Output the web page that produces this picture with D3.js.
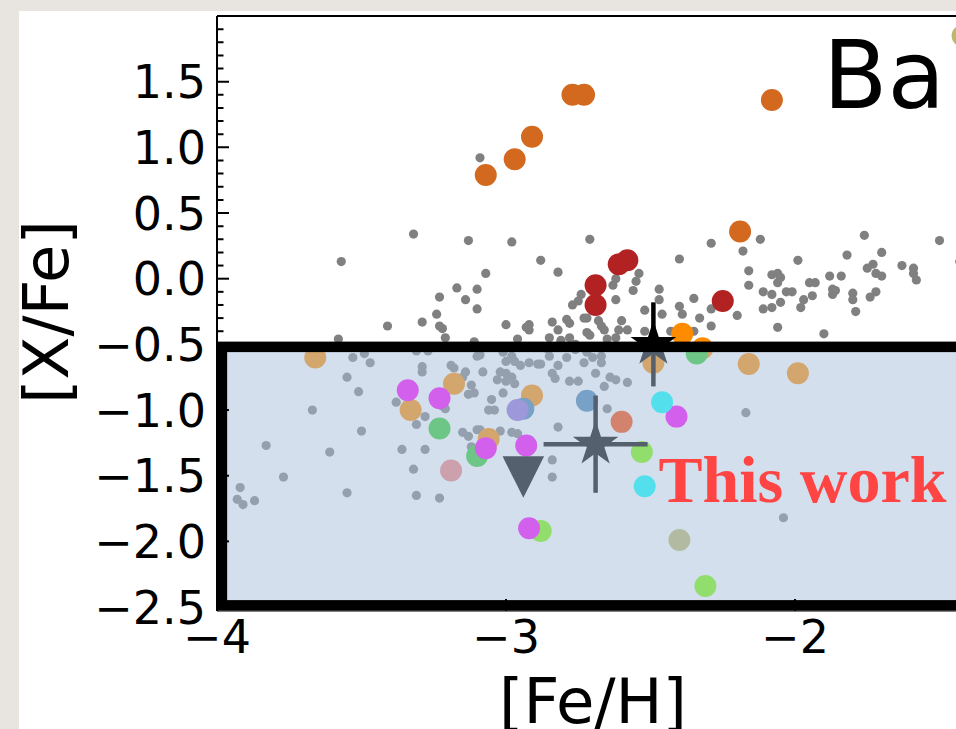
<!DOCTYPE html>
<html>
<head>
<meta charset="utf-8">
<script src="https://cdn.jsdelivr.net/npm/d3@7"></script>
<style>
  html, body { margin: 0; padding: 0; background: #e8e5e0; }
  svg { display: block; }
</style>
</head>
<body>
<svg id="chart" width="956" height="729"></svg>
<script>
// ---------------- DATA ----------------
const xTicks = [-4, -3, -2];
const yTicks = [-2.5, -2.0, -1.5, -1.0, -0.5, 0.0, 0.5, 1.0, 1.5];
const xDomain = [-4, -1.2];
const yDomain = [-2.53, 2.0];

// literature sample (grey)
const grayFeH = [-3.32,-3.13,-3.57,-3.17,-3.23,-3.14,-3.10,-3.10,-3.24,-3.29,-3.41,-3.23,-3.22,-3.21,-3.58,-3.11,-3.09,-2.98,-2.71,-2.88,
 -3.07,-2.82,-2.54,-2.55,-2.62,-2.63,-2.56,-2.47,-2.47,-2.40,-2.29,-2.62,-2.74,-2.75,-2.77,-2.52,-2.46,-2.40,-2.39,-2.35,
 -2.33,-2.29,-2.29,-3.00,-2.93,-2.92,-2.92,-2.84,-2.82,-2.79,-2.78,-2.73,-2.72,-2.68,-2.67,-2.66,-2.60,-2.61,-2.58,-2.72,
 -2.71,-2.96,-2.85,-2.81,-2.78,-2.65,-2.62,-2.52,-2.43,-2.35,-2.76,-2.12,-2.18,-1.76,-1.50,-1.99,-1.82,-1.70,-2.16,-2.16,
 -2.08,-2.06,-2.05,-2.06,-2.11,-2.08,-2.03,-2.01,-2.05,-2.11,-2.08,-2.20,-2.06,-1.95,-1.93,-1.94,-1.97,-1.98,-1.88,-1.84,
 -1.87,-1.86,-1.87,-1.90,-1.80,-1.80,-1.79,-1.75,-1.73,-1.72,-1.70,-1.72,-1.74,-1.63,-1.59,-1.59,-1.58,-1.43,
 -3.49,-3.53,-3.47,-3.31,-3.27,-3.29,-3.29,-3.55,-3.51,-3.67,-3.38,-3.19,-3.18,-3.14,-3.15,-3.12,-3.13,-3.11,-3.28,-3.22,
 -3.21,-3.10,-3.09,-3.08,-3.00,-2.98,-2.97,-2.95,-2.92,-2.89,-2.88,-3.02,-3.00,-2.98,-3.00,-2.97,-3.03,-3.01,-3.05,-3.06,
 -3.04,-2.84,-2.83,-2.85,-2.82,-2.79,-2.78,-2.75,-2.73,-2.70,-2.67,-2.67,-2.69,-2.66,-2.64,-2.62,-2.58,-2.65,-2.72,-2.76,
 -2.86,-3.01,-3.02,-2.98,-2.96,-3.09,-2.82,-2.84,-2.84,-2.17,-2.04,-3.50,-3.83,-3.61,-3.77,-3.92,-3.93,-3.91,-3.87,-3.55,
 -3.36,-3.28,-3.32,-3.31,-3.23,-3.31,-3.15,-3.13,-3.10,-3.12];
const grayXFe = [0.34,0.29,0.13,-0.07,-0.14,-0.16,-0.08,-0.23,-0.27,-0.33,-0.36,-0.36,-0.38,-0.45,-0.46,-0.48,0.92,0.28,0.30,0.14,
 0.04,0.05,0.04,-0.02,0.00,-0.05,-0.09,-0.08,-0.16,0.15,0.27,-0.16,-0.12,-0.17,-0.20,-0.24,-0.27,-0.21,-0.27,-0.15,
 -0.30,-0.23,-0.36,-0.35,-0.37,-0.35,-0.39,-0.33,-0.39,-0.31,-0.34,-0.30,-0.30,-0.32,-0.36,-0.39,-0.32,-0.39,-0.39,-0.41,
 -0.43,-0.46,-0.45,-0.47,-0.45,-0.46,-0.45,-0.40,-0.40,-0.40,-0.50,0.30,0.21,0.33,0.29,0.14,0.18,0.20,0.06,-0.05,
 0.03,0.04,0.01,-0.03,-0.10,-0.12,-0.10,-0.10,-0.18,-0.23,-0.22,-0.28,-0.37,-0.03,-0.03,-0.13,-0.16,-0.22,0.02,0.02,
 -0.08,-0.09,-0.12,-0.42,-0.11,-0.16,-0.25,0.08,0.11,0.04,0.02,-0.10,-0.14,0.10,0.08,0.04,-0.01,0.13,
 -0.57,-0.60,-0.64,-0.55,-0.55,-0.67,-0.71,-0.75,-0.86,-1.00,-0.94,-0.66,-0.68,-0.71,-0.75,-0.81,-0.88,-0.87,-1.05,-0.97,
 -0.99,-0.59,-0.58,-0.71,-0.63,-0.59,-0.63,-0.66,-0.64,-0.65,-0.65,-0.71,-0.72,-0.75,-0.78,-0.80,-0.77,-0.87,-0.92,-1.00,
 -1.00,-0.72,-0.76,-0.59,-0.66,-0.60,-0.78,-0.78,-0.64,-0.60,-0.59,-0.64,-0.72,-0.82,-0.75,-0.77,-0.79,-0.99,-0.56,-0.54,
 -0.53,-0.56,-1.16,-1.17,-1.18,-1.15,-1.13,-1.38,-1.51,-1.02,-1.82,-1.16,-1.27,-1.32,-1.51,-1.59,-1.68,-1.72,-1.69,-1.63,
 -1.30,-1.30,-1.45,-1.65,-1.67,-1.11,-1.17,-1.20,-1.15,-1.28];

// coloured literature stars (one array pair per group)
const darkorangeFeH = [-2.39,-2.32,-2.49,-2.16,-1.99,-3.66,-3.18,-3.33,-2.91,-3.06];
const darkorangeXFe = [-0.42,-0.53,-0.64,-0.65,-0.72,-0.60,-0.80,-1.00,-0.89,-1.22];
const chocolateFeH = [-3.07,-2.97,-2.91,-2.77,-2.73,-2.08,-2.19];
const chocolateXFe = [0.79,0.91,1.08,1.40,1.40,1.36,0.36];
const firebrickFeH = [-2.61,-2.58,-2.69,-2.69,-2.25];
const firebrickXFe = [0.11,0.14,-0.05,-0.20,-0.17];
const limegreenFeH = [-3.23,-3.10,-2.34];
const limegreenXFe = [-1.14,-1.35,-0.57];
const lawngreenFeH = [-2.88,-2.53,-2.31];
const lawngreenXFe = [-1.92,-1.32,-2.34];
const magentaFeH = [-3.34,-3.23,-3.07,-2.93,-2.92,-2.41];
const magentaXFe = [-0.85,-0.91,-1.29,-1.27,-1.90,-1.05];
const cyanFeH = [-2.46,-2.52];
const cyanXFe = [-0.94,-1.58];
const steelblueFeH = [-2.72,-2.94];
const steelblueXFe = [-0.93,-0.99];
const purpleFeH = [-2.96];
const purpleXFe = [-1.00];
const orangeredFeH = [-2.60];
const orangeredXFe = [-1.09];
const coralFeH = [-3.19];
const coralXFe = [-1.46];
const khakiFeH = [-2.40,-1.42];
const khakiXFe = [-1.99,1.85];

// this work
const starFeH = [-2.49, -2.69];
const starXFe = [-0.50, -1.26];
const starErrFeH = [0.0, 0.18];
const starErrXFe = [0.32, 0.37];
const limitFeH = [-2.94];
const limitXFe = [-1.51];

// highlighted region [xmin, xmax, ymin, ymax]
const regionBox = [-3.983, -1.0, -2.487, -0.519];

// ---------------- DRAW ----------------
const svg = d3.select("#chart");
const axL = 217, axT = 16, axB = 611;
const pxPerUnit = 289;
const x = d3.scaleLinear().domain(xDomain).range([axL, axL + (xDomain[1]-xDomain[0])*pxPerUnit]);
const y = d3.scaleLinear().domain(yDomain).range([axB, axT]);

// paper card
svg.append("rect").attr("x", 19).attr("y", 11).attr("width", 956-19).attr("height", 729-11).attr("fill", "#ffffff");

const defs = svg.append("defs");
defs.append("clipPath").attr("id", "axclip").append("rect")
  .attr("x", axL).attr("y", axT).attr("width", x(xDomain[1]) - axL).attr("height", axB - axT);

const plot = svg.append("g").attr("clip-path", "url(#axclip)");

function dots(fe, xf, color, r) {
  plot.append("g").selectAll("circle")
    .data(fe.map((d, i) => [d, xf[i]]))
    .join("circle")
    .attr("cx", d => x(d[0])).attr("cy", d => y(d[1]))
    .attr("r", r).attr("fill", color);
}

dots(grayFeH, grayXFe, "#808080", 4.6);
const R = 11;
dots(darkorangeFeH, darkorangeXFe, "#ff8c00", R);
dots(chocolateFeH, chocolateXFe, "#d2691e", R);
dots(firebrickFeH, firebrickXFe, "#b22222", R);
dots(limegreenFeH, limegreenXFe, "#32cd32", R);
dots(lawngreenFeH, lawngreenXFe, "#7cfc00", R);
dots(magentaFeH, magentaXFe, "#ff00ff", R);
dots(cyanFeH, cyanXFe, "#00ffff", R);
dots(steelblueFeH, steelblueXFe, "#4682b4", R);
dots(purpleFeH, purpleXFe, "#9370db", R);
dots(orangeredFeH, orangeredXFe, "#ff4500", R);
dots(coralFeH, coralXFe, "#f08080", R);
dots(khakiFeH, khakiXFe, "#bdb76b", R);

// this work: error bars + stars
const tw = plot.append("g");
starFeH.forEach((fe, i) => {
  const xf = starXFe[i];
  if (starErrFeH[i] > 0) {
    tw.append("line").attr("x1", x(fe - starErrFeH[i])).attr("x2", x(fe + starErrFeH[i]))
      .attr("y1", y(xf)).attr("y2", y(xf)).attr("stroke", "#000").attr("stroke-width", 4.5);
  }
  tw.append("line").attr("x1", x(fe)).attr("x2", x(fe))
    .attr("y1", y(xf - starErrXFe[i])).attr("y2", y(xf + starErrXFe[i]))
    .attr("stroke", "#000").attr("stroke-width", 4.5);
});
function starPath(cx, cy, Ro) {
  const p = d3.path();
  for (let k = 0; k < 10; k++) {
    const a = k * Math.PI / 5 - Math.PI / 2;
    const rr = k % 2 === 0 ? Ro : Ro * 0.381966;
    const px = cx + rr * Math.cos(a), py = cy + rr * Math.sin(a);
    if (k === 0) p.moveTo(px, py); else p.lineTo(px, py);
  }
  p.closePath();
  return p.toString();
}
tw.selectAll("path.star").data(starFeH.map((d, i) => [d, starXFe[i]])).join("path")
  .attr("class", "star").attr("d", d => starPath(x(d[0]), y(d[1]), 24)).attr("fill", "#000");
tw.selectAll("path.lim").data(limitFeH.map((d, i) => [d, limitXFe[i]])).join("path")
  .attr("class", "lim")
  .attr("d", d => { const cx = x(d[0]), cy = y(d[1]), s = 20.8;
    return `M${cx - s},${cy - s}L${cx + s},${cy - s}L${cx},${cy + s}Z`; })
  .attr("fill", "#000");

// translucent region overlay
const bx0 = x(regionBox[0]), bx1 = x(regionBox[1]), by0 = y(regionBox[3]), by1 = y(regionBox[2]);
plot.append("rect").attr("x", bx0).attr("y", by0).attr("width", bx1 - bx0).attr("height", by1 - by0)
  .attr("fill", "#a8c0da").attr("fill-opacity", 0.5);

// axes: ticks (inward)
const axg = svg.append("g").attr("clip-path", "url(#axclip)");
const minorY = d3.range(-25, 21).map(v => v / 10).filter(v => Math.abs(Math.round(v * 2) - v * 2) > 1e-6);
axg.selectAll("line.ymin").data(minorY).join("line")
  .attr("x1", axL).attr("x2", axL + 6.5).attr("y1", d => y(d)).attr("y2", d => y(d))
  .attr("stroke", "#000").attr("stroke-width", 2);
axg.selectAll("line.ymaj").data(yTicks.concat([2.0])).join("line")
  .attr("x1", axL).attr("x2", axL + 12).attr("y1", d => y(d)).attr("y2", d => y(d))
  .attr("stroke", "#000").attr("stroke-width", 2);
axg.selectAll("line.xmaj").data(xTicks).join("line")
  .attr("x1", d => x(d)).attr("x2", d => x(d)).attr("y1", axB).attr("y2", axB - 12)
  .attr("stroke", "#000").attr("stroke-width", 2);

// spines
svg.append("line").attr("x1", axL).attr("x2", 956).attr("y1", axT).attr("y2", axT).attr("stroke", "#000").attr("stroke-width", 2);
svg.append("line").attr("x1", axL).attr("x2", axL).attr("y1", axT).attr("y2", axB).attr("stroke", "#000").attr("stroke-width", 2);
svg.append("line").attr("x1", axL).attr("x2", 956).attr("y1", axB).attr("y2", axB).attr("stroke", "#000").attr("stroke-width", 1);

// region border
plot.append("rect").attr("x", bx0).attr("y", by0).attr("width", bx1 - bx0).attr("height", by1 - by0)
  .attr("fill", "none").attr("stroke", "#000").attr("stroke-width", 10.5);

// tick labels
const fmtY = d => (d < 0 ? "\u2212" : "") + Math.abs(d).toFixed(1);
const fmtX = d => (d < 0 ? "\u2212" : "") + Math.abs(d);
svg.append("g").selectAll("text").data(yTicks).join("text")
  .attr("x", 206).attr("y", d => y(d) + 16.5)
  .attr("text-anchor", "end").attr("font-family", "DejaVu Sans").attr("font-size", 46).attr("fill", "#000")
  .text(fmtY);
svg.append("g").selectAll("text").data(xTicks).join("text")
  .attr("x", d => x(d)).attr("y", 653)
  .attr("text-anchor", "middle").attr("font-family", "DejaVu Sans").attr("font-size", 46).attr("fill", "#000")
  .text(fmtX);

// axis titles
svg.append("text").attr("x", 593).attr("y", 723).attr("text-anchor", "middle")
  .attr("font-family", "DejaVu Sans").attr("font-size", 62.5).attr("fill", "#000").text("[Fe/H]");
svg.append("text").attr("transform", "translate(68,312) rotate(-90)").attr("text-anchor", "middle")
  .attr("font-family", "DejaVu Sans").attr("font-size", 62.5).attr("fill", "#000").text("[X/Fe]");

// element label and annotation
svg.append("text").attr("x", 823).attr("y", 108).attr("font-family", "DejaVu Sans").attr("font-size", 94)
  .attr("fill", "#000").text("Ba");
svg.append("text").attr("x", 658.5).attr("y", 501.5).attr("font-family", "Liberation Serif").attr("font-weight", "bold")
  .attr("font-size", 66).attr("fill", "#ff4444").text("This work");
</script>
</body>
</html>
